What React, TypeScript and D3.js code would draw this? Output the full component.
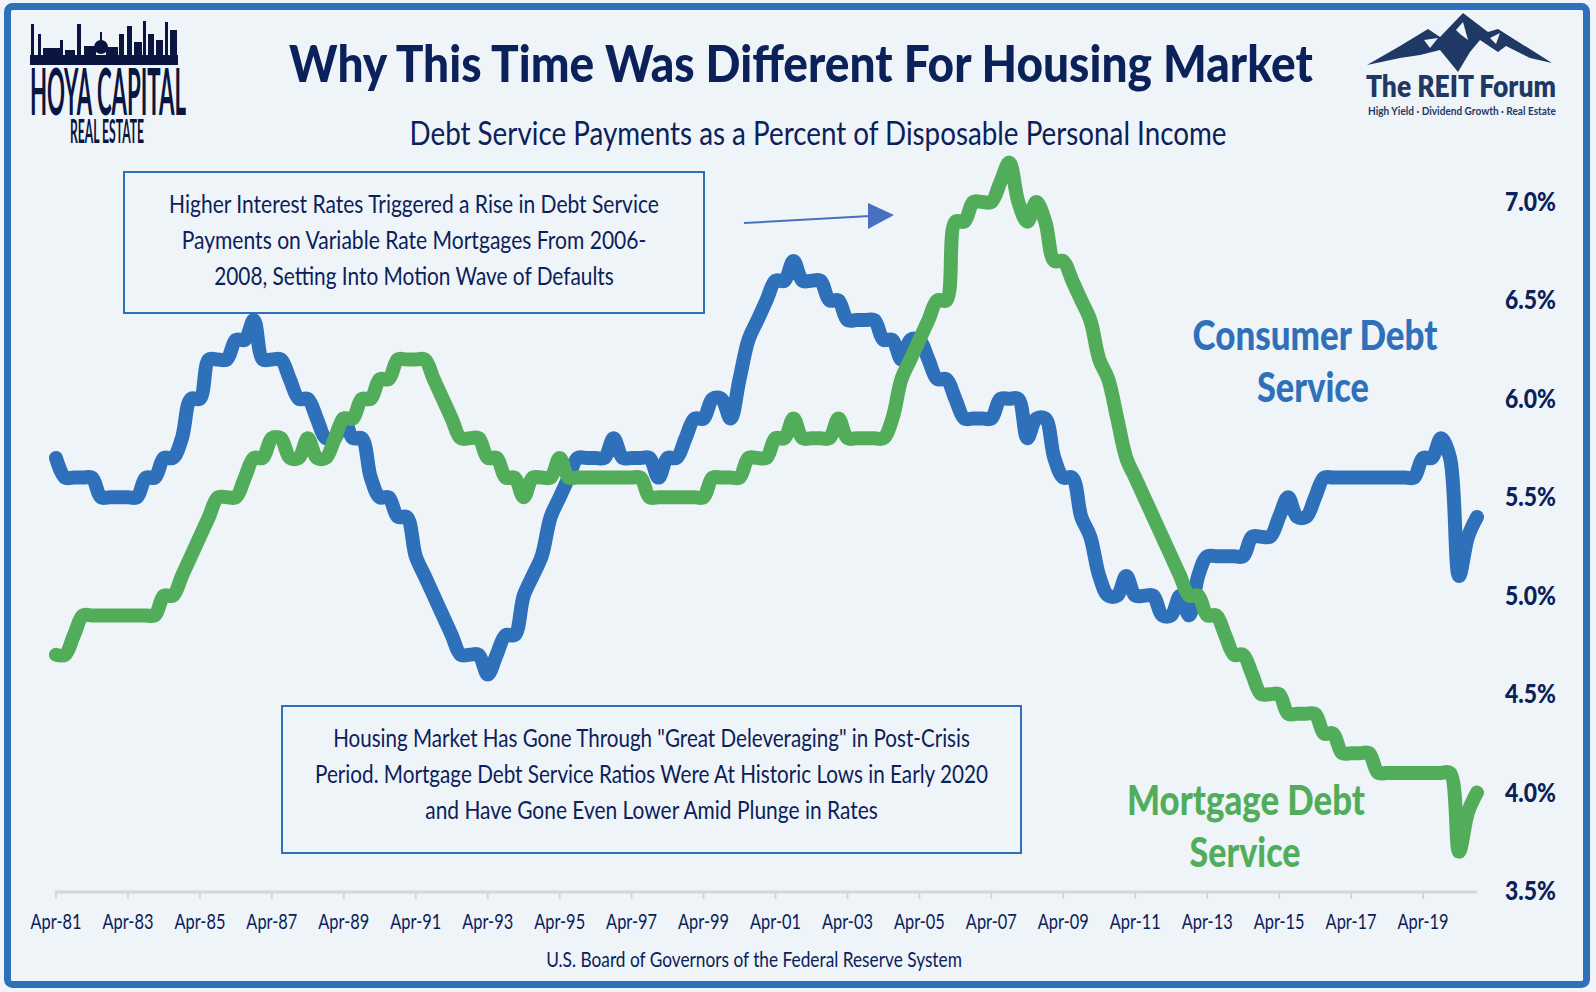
import { useLayoutEffect, useRef, useState, ReactNode } from "react";
import * as d3 from "d3";

// Debt service payments, % of disposable personal income, quarterly Apr-81 .. Oct-20
const consumerDebt = [
    5.7, 5.6, 5.6, 5.6, 5.6, 5.5, 5.5, 5.5,
    5.5, 5.5, 5.6, 5.6, 5.7, 5.7, 5.8, 6.0,
    6.0, 6.2, 6.2, 6.2, 6.3, 6.3, 6.4, 6.2,
    6.2, 6.2, 6.1, 6.0, 6.0, 5.9, 5.8, 5.8,
    5.9, 5.8, 5.8, 5.6, 5.5, 5.5, 5.4, 5.4,
    5.2, 5.1, 5.0, 4.9, 4.8, 4.7, 4.7, 4.7,
    4.6, 4.7, 4.8, 4.8, 5.0, 5.1, 5.2, 5.4,
    5.5, 5.6, 5.7, 5.7, 5.7, 5.7, 5.8, 5.7,
    5.7, 5.7, 5.7, 5.6, 5.7, 5.7, 5.8, 5.9,
    5.9, 6.0, 6.0, 5.9, 6.1, 6.3, 6.4, 6.5,
    6.6, 6.6, 6.7, 6.6, 6.6, 6.6, 6.5, 6.5,
    6.4, 6.4, 6.4, 6.4, 6.3, 6.3, 6.2, 6.3,
    6.3, 6.2, 6.1, 6.1, 6.0, 5.9, 5.9, 5.9,
    5.9, 6.0, 6.0, 6.0, 5.8, 5.9, 5.9, 5.7,
    5.6, 5.6, 5.4, 5.3, 5.1, 5.0, 5.0, 5.1,
    5.0, 5.0, 5.0, 4.9, 4.9, 5.0, 4.9, 5.1,
    5.2, 5.2, 5.2, 5.2, 5.2, 5.3, 5.3, 5.3,
    5.4, 5.5, 5.4, 5.4, 5.5, 5.6, 5.6, 5.6,
    5.6, 5.6, 5.6, 5.6, 5.6, 5.6, 5.6, 5.6,
    5.7, 5.7, 5.8, 5.7, 5.1, 5.3, 5.4,
];

const mortgageDebt = [
    4.7, 4.7, 4.8, 4.9, 4.9, 4.9, 4.9, 4.9,
    4.9, 4.9, 4.9, 4.9, 5.0, 5.0, 5.1, 5.2,
    5.3, 5.4, 5.5, 5.5, 5.5, 5.6, 5.7, 5.7,
    5.8, 5.8, 5.7, 5.7, 5.8, 5.7, 5.7, 5.8,
    5.9, 5.9, 6.0, 6.0, 6.1, 6.1, 6.2, 6.2,
    6.2, 6.2, 6.1, 6.0, 5.9, 5.8, 5.8, 5.8,
    5.7, 5.7, 5.6, 5.6, 5.5, 5.6, 5.6, 5.6,
    5.7, 5.6, 5.6, 5.6, 5.6, 5.6, 5.6, 5.6,
    5.6, 5.6, 5.5, 5.5, 5.5, 5.5, 5.5, 5.5,
    5.5, 5.6, 5.6, 5.6, 5.6, 5.7, 5.7, 5.7,
    5.8, 5.8, 5.9, 5.8, 5.8, 5.8, 5.8, 5.9,
    5.8, 5.8, 5.8, 5.8, 5.8, 5.9, 6.1, 6.2,
    6.3, 6.4, 6.5, 6.5, 6.9, 6.9, 7.0, 7.0,
    7.0, 7.1, 7.2, 7.0, 6.9, 7.0, 6.9, 6.7,
    6.7, 6.6, 6.5, 6.4, 6.2, 6.1, 5.9, 5.7,
    5.6, 5.5, 5.4, 5.3, 5.2, 5.1, 5.0, 5.0,
    4.9, 4.9, 4.8, 4.7, 4.7, 4.6, 4.5, 4.5,
    4.5, 4.4, 4.4, 4.4, 4.4, 4.3, 4.3, 4.2,
    4.2, 4.2, 4.2, 4.1, 4.1, 4.1, 4.1, 4.1,
    4.1, 4.1, 4.1, 4.1, 3.7, 3.9, 4.0,
];

const quarters = d3
    .timeMonth.range(new Date(1981, 3, 1), new Date(2021, 0, 1), 3)
    .map((d) => d3.timeFormat("%Y-%m")(d));

const tickLabels = [
    "Apr-81", "Apr-83", "Apr-85", "Apr-87", "Apr-89", "Apr-91", "Apr-93",
    "Apr-95", "Apr-97", "Apr-99", "Apr-01", "Apr-03", "Apr-05", "Apr-07",
    "Apr-09", "Apr-11", "Apr-13", "Apr-15", "Apr-17", "Apr-19",
];

const yTicks = [3.5, 4.0, 4.5, 5.0, 5.5, 6.0, 6.5, 7.0];

const topNote = [
    "Higher Interest Rates Triggered a Rise in Debt Service",
    "Payments on Variable Rate Mortgages From 2006-",
    "2008, Setting Into Motion Wave of Defaults",
];

const bottomNote = [
    'Housing Market Has Gone Through "Great Deleveraging" in Post-Crisis',
    "Period. Mortgage Debt Service Ratios Were At Historic Lows in Early 2020",
    "and Have Gone Even Lower Amid Plunge in Rates",
];

const NAVY = "#0b2159";
const BLUE = "#2f70ba";
const GREEN = "#52ad5b";
const BG = "#eff4f9";
const FONT = "Lato, 'Noto Sans', sans-serif";

// skyline pieces for the Hoya logo: [x, width, top]
const skyline = [
    [31, 3, 24], [38, 3, 34], [43, 18, 48], [60, 3, 40], [65, 10, 50],
    [77, 4, 24], [84, 12, 46], [106, 12, 47], [119, 5, 34], [127, 5, 26],
    [134, 8, 42], [143, 3, 21], [148, 6, 34], [156, 7, 40], [165, 3, 22],
    [170, 7, 30],
];

// text squeezed horizontally to a measured width (the original uses condensed faces)
function FitText({
    x,
    y,
    width,
    anchor = "start",
    sy = 1,
    children,
    ...rest
}: {
    x: number;
    y: number;
    width: number;
    anchor?: "start" | "middle" | "end";
    sy?: number;
    children: ReactNode;
    [key: string]: unknown;
}) {
    const ref = useRef<SVGTextElement>(null);
    const [sx, setSx] = useState(1);

    useLayoutEffect(() => {
        if (ref.current) {
            const natural = ref.current.getComputedTextLength();
            if (natural > 0) setSx(width / natural);
        }
    }, [width, children]);

    return (
        <text
            ref={ref}
            transform={`translate(${x},${y}) scale(${sx},${sy})`}
            textAnchor={anchor}
            {...rest}
        >
            {children}
        </text>
    );
}

function HoyaLogo() {
    const sy = 1.45;
    return (
        <g fill="#0b1640">
            <rect x={30} y={55} width={148} height={10} />
            {skyline.map(([x, w, top], i) => (
                <rect key={i} x={x} y={top} width={w} height={56 - top} />
            ))}
            <circle cx={101} cy={47} r={7} />
            <rect x={100} y={32} width={2} height={10} />
            <text transform={`scale(1,${sy})`} fontFamily={FONT} fontWeight={700}>
                <tspan x={30} y={115 / sy} fontSize={45} textLength={156} lengthAdjust="spacingAndGlyphs">
                    HOYA CAPITAL
                </tspan>
                <tspan x={70} y={143 / sy} fontSize={22} textLength={74} lengthAdjust="spacingAndGlyphs">
                    REAL ESTATE
                </tspan>
            </text>
        </g>
    );
}

function ReitLogo() {
    const dark = "#1f3864";
    return (
        <g>
            <polygon
                fill={dark}
                points="1367,65 1400,46 1428,29 1440,37 1463,13 1488,32 1498,29 1552,63 1530,58 1506,46 1498,52 1480,40 1470,52 1458,72 1440,50 1420,55 1400,58"
            />
            <polygon fill={BG} points="1424,40 1438,38 1430,48" />
            <polygon fill={BG} points="1456,30 1463,22 1468,40 1460,34" />
            <polygon fill={BG} points="1490,38 1500,33 1496,44" />
            <FitText x={1366} y={97} width={190} fill={dark} fontFamily={FONT} fontSize={30} fontWeight={800}>
                The REIT Forum
            </FitText>
            <FitText x={1368} y={115} width={188} fill={dark} fontFamily={FONT} fontSize={12} fontWeight={700}>
                High Yield · Dividend Growth · Real Estate
            </FitText>
        </g>
    );
}

function NoteBox({
    x,
    y,
    width,
    height,
    lines,
    widths,
}: {
    x: number;
    y: number;
    width: number;
    height: number;
    lines: string[];
    widths: number[];
}) {
    const cx = x + width / 2;
    return (
        <g>
            <rect x={x} y={y} width={width} height={height} fill="none" stroke={BLUE} strokeWidth={2} />
            {lines.map((line, i) => (
                <FitText
                    key={i}
                    x={cx}
                    y={y + 41 + i * 36}
                    width={widths[i]}
                    anchor="middle"
                    fill={NAVY}
                    fontFamily={FONT}
                    fontSize={25}
                >
                    {line}
                </FitText>
            ))}
        </g>
    );
}

export default function App() {
    const width = 1596;
    const height = 992;

    const x = d3.scalePoint<string>().domain(quarters).range([56, 1477]);
    const y = d3.scaleLinear().domain([3.5, 7.0]).range([891, 202]);

    const line = d3
        .line<number>()
        .x((_, i) => x(quarters[i]) ?? 0)
        .y((d) => y(d))
        .curve(d3.curveCatmullRom.alpha(0.5));

    const axisY = 892;

    return (
        <svg
            width={width}
            height={height}
            style={{ position: "absolute", left: 0, top: 0, display: "block" }}
        >
            <rect x={0} y={0} width={width} height={height} fill={BG} />
            <rect
                x={7.5}
                y={6.5}
                width={1579}
                height={978}
                rx={5}
                fill={BG}
                stroke={BLUE}
                strokeWidth={7}
            />

            <HoyaLogo />
            <ReitLogo />

            <FitText
                x={801}
                y={82}
                width={1024}
                anchor="middle"
                fill={NAVY}
                fontFamily={FONT}
                fontSize={51}
                fontWeight={900}
            >
                Why This Time Was Different For Housing Market
            </FitText>
            <FitText x={818} y={145} width={817} anchor="middle" fill={NAVY} fontFamily={FONT} fontSize={33}>
                Debt Service Payments as a Percent of Disposable Personal Income
            </FitText>

            {/* x axis */}
            <line x1={55} x2={1477} y1={axisY} y2={axisY} stroke="#d6d6d6" strokeWidth={3} />
            {tickLabels.map((label, i) => {
                const tx = x(quarters[i * 8]) ?? 0;
                return (
                    <g key={label}>
                        <line x1={tx} x2={tx} y1={axisY} y2={axisY + 7} stroke="#d6d6d6" strokeWidth={2} />
                        <FitText
                            x={tx}
                            y={929}
                            width={51}
                            anchor="middle"
                            fill={NAVY}
                            fontFamily={FONT}
                            fontSize={22}
                        >
                            {label}
                        </FitText>
                    </g>
                );
            })}

            {/* y labels */}
            {yTicks.map((v) => (
                <FitText
                    key={v}
                    x={1556}
                    y={y(v) + 9}
                    width={51}
                    anchor="end"
                    fill={NAVY}
                    fontFamily={FONT}
                    fontSize={26}
                    fontWeight={900}
                >
                    {d3.format(".1f")(v) + "%"}
                </FitText>
            ))}

            {/* series */}
            <path
                d={line(consumerDebt) ?? ""}
                fill="none"
                stroke={BLUE}
                strokeWidth={14}
                strokeLinejoin="round"
                strokeLinecap="round"
            />
            <path
                d={line(mortgageDebt) ?? ""}
                fill="none"
                stroke={GREEN}
                strokeWidth={14}
                strokeLinejoin="round"
                strokeLinecap="round"
            />

            <NoteBox x={124} y={172} width={580} height={141} lines={topNote} widths={[490, 465, 400]} />
            <NoteBox x={282} y={706} width={739} height={147} lines={bottomNote} widths={[637, 673, 453]} />

            {/* arrow */}
            <line x1={744} y1={223} x2={870} y2={216} stroke="#4a6fc1" strokeWidth={2} />
            <polygon points="868,203 894,215 868,229" fill="#4a6fc1" />

            {/* series labels */}
            <FitText x={1315} y={350} width={245} anchor="middle" fill={BLUE} fontFamily={FONT} fontSize={42} fontWeight={900}>
                Consumer Debt
            </FitText>
            <FitText x={1313} y={402} width={112} anchor="middle" fill={BLUE} fontFamily={FONT} fontSize={42} fontWeight={900}>
                Service
            </FitText>
            <FitText x={1246} y={815} width={238} anchor="middle" fill={GREEN} fontFamily={FONT} fontSize={42} fontWeight={900}>
                Mortgage Debt
            </FitText>
            <FitText x={1245} y={867} width={111} anchor="middle" fill={GREEN} fontFamily={FONT} fontSize={42} fontWeight={900}>
                Service
            </FitText>

            <FitText x={754} y={967} width={416} anchor="middle" fill={NAVY} fontFamily={FONT} fontSize={21}>
                U.S. Board of Governors of the Federal Reserve System
            </FitText>
        </svg>
    );
}
